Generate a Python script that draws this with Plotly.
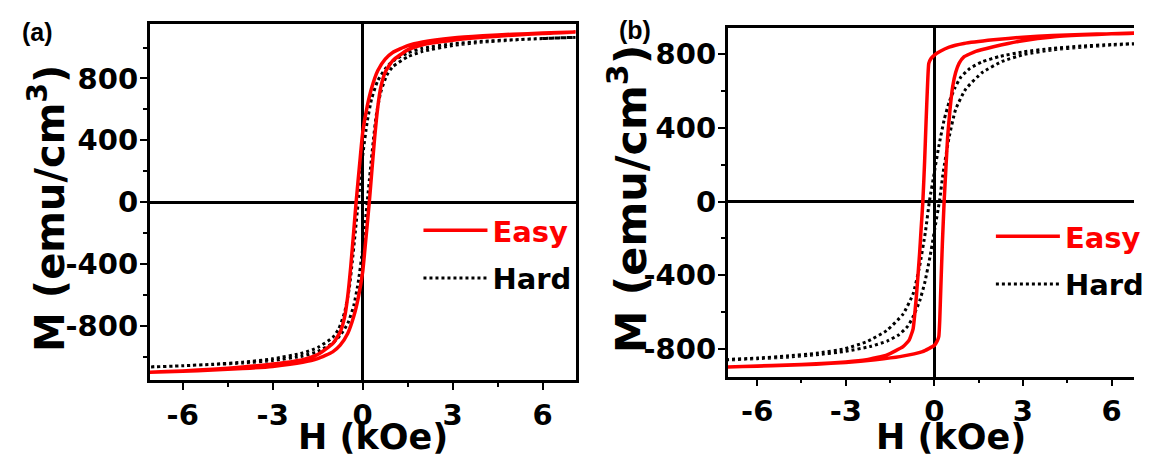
import plotly.graph_objects as go

# ---------------- Panel (a) data (H in kOe, M in emu/cm^3) ----------------
a_easy_desc_H = [7.1, 6, 5, 4, 3, 2, 1.5, 1.0, 0.75, 0.5, 0.3, 0.15, 0.0, -0.1, -0.22, -0.3, -0.4, -0.5, -0.6, -0.75, -1.0, -1.5, -2, -3, -4, -5, -6, -7.1]
a_easy_desc_M = [1100, 1093, 1086, 1076, 1062, 1036, 1012, 968, 925, 850, 740, 620, 450, 250, 0, -190, -420, -610, -740, -840, -915, -985, -1018, -1047, -1066, -1080, -1091, -1100]
a_easy_asc_H = [-7.1, -6, -5, -4, -3, -2, -1.5, -1.0, -0.75, -0.5, -0.3, -0.15, 0.0, 0.1, 0.22, 0.3, 0.4, 0.5, 0.6, 0.75, 1.0, 1.5, 2, 3, 4, 5, 6, 7.1]
a_easy_asc_M = [-1100, -1093, -1086, -1076, -1062, -1036, -1012, -968, -925, -850, -740, -620, -450, -250, 0, 190, 420, 610, 740, 840, 915, 985, 1018, 1047, 1066, 1080, 1091, 1100]

a_hard_desc_H = [7.1, 6, 5, 4, 3, 2, 1.5, 1.0, 0.75, 0.5, 0.3, 0.15, 0.0, -0.15, -0.25, -0.35, -0.45, -0.6, -0.8, -1.0, -1.5, -2, -3, -4, -5, -6, -7.1]
a_hard_desc_M = [1066, 1058, 1050, 1040, 1024, 995, 965, 912, 862, 785, 670, 520, 300, 0, -200, -390, -560, -710, -820, -875, -940, -975, -1013, -1035, -1048, -1058, -1066]
a_hard_asc_H = [-7.1, -6, -5, -4, -3, -2, -1.5, -1.0, -0.75, -0.5, -0.3, -0.15, 0.0, 0.15, 0.25, 0.35, 0.45, 0.6, 0.8, 1.0, 1.5, 2, 3, 4, 5, 6, 7.1]
a_hard_asc_M = [-1066, -1058, -1050, -1040, -1024, -995, -965, -912, -862, -785, -670, -520, -300, 0, 200, 390, 560, 710, 820, 875, 940, 975, 1013, 1035, 1048, 1058, 1066]

# ---------------- Panel (b) data ----------------
b_easy_desc_H = [7.0, 6, 5, 4, 3, 2, 1, 0.5, 0.2, 0.0, -0.12, -0.19, -0.24, -0.28, -0.33, -0.39, -0.45, -0.5, -0.61, -0.72, -0.85, -1.06, -1.6, -2.3, -3, -4, -5, -6, -7.0]
b_easy_desc_M = [915, 911, 907, 901, 892, 878, 858, 838, 815, 795, 775, 750, 600, 440, 220, 0, -150, -280, -515, -690, -750, -787, -832, -858, -870, -880, -887, -892, -897]
b_easy_asc_H = [-7.0, -6, -5, -4, -3, -2, -1.17, -0.4, 0.0, 0.1, 0.15, 0.18, 0.22, 0.27, 0.33, 0.39, 0.45, 0.53, 0.62, 0.72, 0.84, 1.0, 1.4, 2, 2.5, 3, 4, 5, 6, 7.0]
b_easy_asc_M = [-897, -893, -888, -882, -873, -858, -841, -814, -780, -755, -732, -650, -460, -230, 0, 180, 353, 500, 624, 700, 751, 785, 815, 840, 858, 873, 893, 903, 910, 915]

b_hard_desc_H = [7.0, 6, 5, 4, 3, 2.2, 1.6, 1.2, 0.9, 0.7, 0.5, 0.33, 0.15, 0.0, -0.17, -0.3, -0.5, -0.72, -1.06, -1.62, -2.29, -3.04, -4, -5, -6, -7.0]
b_hard_desc_M = [858, 852, 844, 831, 812, 787, 757, 722, 676, 618, 540, 443, 300, 160, 0, -160, -350, -500, -610, -700, -760, -798, -823, -838, -849, -857]
b_hard_asc_H = [-7.0, -6, -5, -4, -3, -2.2, -1.6, -1.2, -0.9, -0.7, -0.5, -0.33, -0.15, 0.0, 0.17, 0.3, 0.5, 0.72, 1.06, 1.62, 2.29, 3.04, 4, 5, 6, 7.0]
b_hard_asc_M = [-858, -852, -844, -831, -812, -787, -757, -722, -676, -618, -540, -443, -300, -160, 0, 160, 350, 500, 610, 700, 760, 798, 823, 838, 849, 857]

x_tick_vals = [-6, -3, 0, 3, 6]
x_tick_text = ["-6", "-3", "0", "3", "6"]
x_minor_vals = [-4.5, -1.5, 1.5, 4.5]
y_tick_vals = [-800, -400, 0, 400, 800]
y_tick_text = ["-800", "-400", "0", "400", "800"]
a_y_minor_vals = [-1000, -600, -200, 200, 600, 1000]
b_y_minor_vals = [-600, -200, 200, 600]

W, H = 1149, 458
FONT = "DejaVu Sans"
LABEL_FONT = "Liberation Sans"
RED = "#ff0000"

fig = go.Figure()

def loop(hd, md, ha, ma):
    return hd + ha, md + ma

# panel (a)
hx, my = loop(a_hard_desc_H, a_hard_desc_M, a_hard_asc_H, a_hard_asc_M)
fig.add_trace(go.Scatter(x=hx, y=my, mode="lines", name="Hard", legendrank=2, legendgroup="ha",
                         line=dict(color="black", width=3, dash="3px,3px", shape="spline", smoothing=0.5),
                         xaxis="x", yaxis="y", legend="legend"))
ex, ey = loop(a_easy_desc_H, a_easy_desc_M, a_easy_asc_H, a_easy_asc_M)
fig.add_trace(go.Scatter(x=ex, y=ey, mode="lines", name="<span style='color:#ff0000'>Easy</span>", legendrank=1,
                         legendgroup="ea",
                         line=dict(color=RED, width=3.5, shape="spline", smoothing=0.5),
                         xaxis="x", yaxis="y", legend="legend"))
# panel (b)
hx, my = loop(b_hard_desc_H, b_hard_desc_M, b_hard_asc_H, b_hard_asc_M)
fig.add_trace(go.Scatter(x=hx, y=my, mode="lines", name="Hard", legendrank=2, legendgroup="hb",
                         line=dict(color="black", width=3, dash="3px,3px", shape="spline", smoothing=0.5),
                         xaxis="x2", yaxis="y2", legend="legend2"))
ex, ey = loop(b_easy_desc_H, b_easy_desc_M, b_easy_asc_H, b_easy_asc_M)
fig.add_trace(go.Scatter(x=ex, y=ey, mode="lines", name="<span style='color:#ff0000'>Easy</span>", legendrank=1,
                         legendgroup="eb",
                         line=dict(color=RED, width=3.5, shape="spline", smoothing=0.4),
                         xaxis="x2", yaxis="y2", legend="legend2"))

tickfont = dict(family=FONT, size=29, color="black", weight="bold")

def xax(domain, rng, anchor):
    return dict(domain=domain, range=rng, anchor=anchor, showline=True, linecolor="black", linewidth=2.5,
                mirror=True, ticks="outside", ticklen=7, tickwidth=2, tickcolor="black",
                tickvals=x_tick_vals, ticktext=x_tick_text, tickfont=tickfont, showgrid=False,
                zeroline=True, zerolinecolor="black", zerolinewidth=2.5,
                minor=dict(tickvals=x_minor_vals, ticks="outside", ticklen=4, tickwidth=2, tickcolor="black", showgrid=False))

def yax(domain, rng, anchor, minor_vals, mirror):
    return dict(domain=domain, range=rng, anchor=anchor, showline=True, linecolor="black", linewidth=2.5,
                mirror=mirror, ticks="outside", ticklen=7, tickwidth=2, tickcolor="black",
                tickvals=y_tick_vals, ticktext=y_tick_text, tickfont=tickfont, showgrid=False,
                ticklabelstandoff=-4,
                zeroline=True, zerolinecolor="black", zerolinewidth=2.5,
                minor=dict(tickvals=minor_vals, ticks="outside", ticklen=4, tickwidth=2, tickcolor="black", showgrid=False))

legfont = dict(family=FONT, size=29, color="black", weight="bold")
fig.update_layout(
    width=W, height=H, margin=dict(l=0, r=0, t=0, b=0),
    paper_bgcolor="white", plot_bgcolor="white",
    xaxis=xax([151.7 / W, 583.3 / W], [-7.1, 7.1], "y"),
    yaxis=yax([1 - 380 / H, 1 - 24.3 / H], [-1150, 1150], "x", a_y_minor_vals, True),
    xaxis2=xax([737.3 / W, 1.0], [-7.0, 6.76], "y2"),
    yaxis2=yax([1 - 376.7 / H, 1 - 28.3 / H], [-950, 940], "x2", b_y_minor_vals, False),
    legend=dict(x=424 / W, y=1 - 205 / H, xanchor="left", yanchor="top", itemwidth=64,
                bgcolor="rgba(0,0,0,0)", font=legfont, tracegroupgap=7, itemclick=False),
    legend2=dict(x=1004 / W, y=1 - 211 / H, xanchor="left", yanchor="top", itemwidth=64,
                 bgcolor="rgba(0,0,0,0)", font=legfont, tracegroupgap=7, itemclick=False),
    showlegend=True,
)

title_a_font = dict(family=FONT, size=40, color="black", weight="bold")
title_b_font = dict(family=FONT, size=43, color="black", weight="bold")
xtitle_font = dict(family=FONT, size=35, color="black", weight="bold")
label_font = dict(family=LABEL_FONT, size=25, color="black", weight="bold")
ann = [
    dict(text="(a)", x=38 / W, y=1 - 32 / H, font=label_font),
    dict(text="(b)", x=643 / W, y=1 - 30 / H, font=label_font),
    dict(text="M (emu/cm<sup>3</sup>)", x=47.5 / W, y=1 - 208 / H, textangle=-90, font=title_a_font),
    dict(text="M (emu/cm<sup>3</sup>)", x=636.5 / W, y=1 - 199 / H, textangle=-90, font=title_b_font),
    dict(text="H (kOe)", x=378 / W, y=1 - 437 / H, font=xtitle_font),
    dict(text="H (kOe)", x=964 / W, y=1 - 437 / H, font=xtitle_font),
]
for a in ann:
    a.update(xref="paper", yref="paper", xanchor="center", yanchor="middle", showarrow=False)
    fig.add_annotation(**a)

fig.write_html("out.html")
